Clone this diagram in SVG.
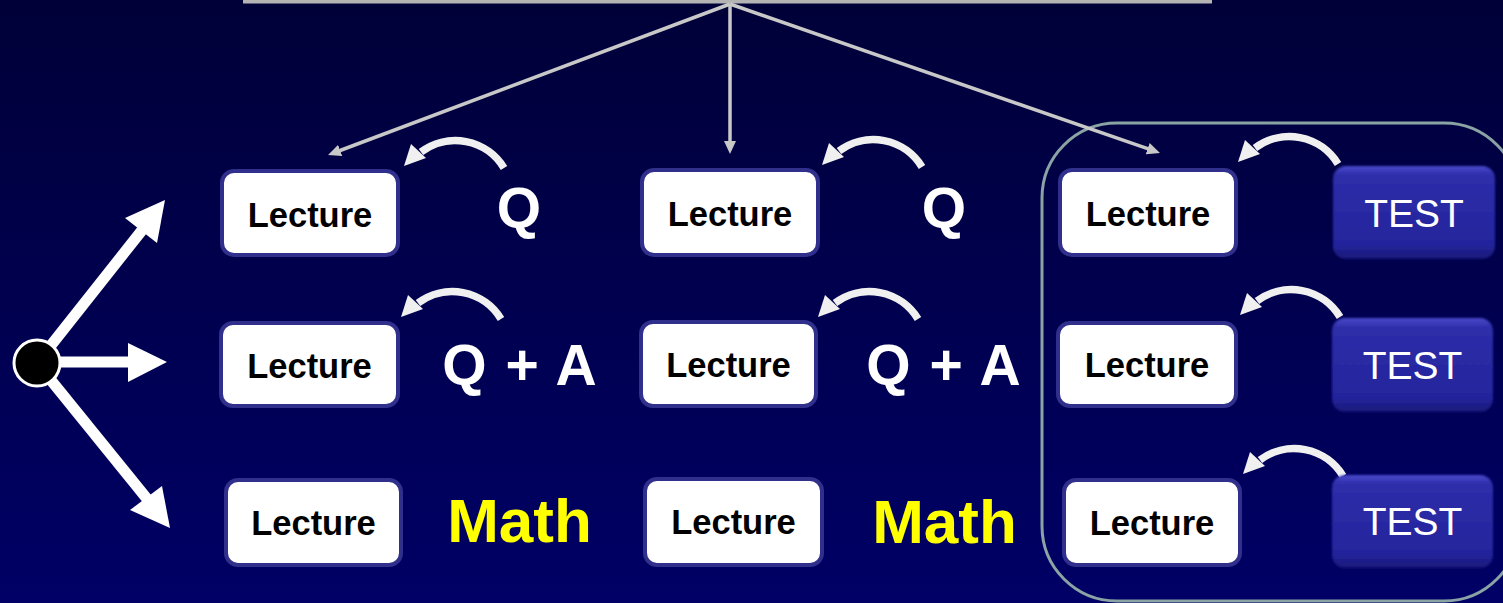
<svg xmlns="http://www.w3.org/2000/svg" width="1503" height="603" viewBox="0 0 1503 603">
  <defs>
    <linearGradient id="bg" x1="0" y1="0" x2="0" y2="1">
      <stop offset="0" stop-color="#000038"/>
      <stop offset="1" stop-color="#000066"/>
    </linearGradient>
    <linearGradient id="testFill" x1="0" y1="0" x2="0" y2="1">
      <stop offset="0" stop-color="#4a4acc"/>
      <stop offset="0.1" stop-color="#2e2eaa"/>
      <stop offset="0.85" stop-color="#24249c"/>
      <stop offset="1" stop-color="#181878"/>
    </linearGradient>
    <filter id="soft" x="-5%" y="-5%" width="110%" height="110%">
      <feGaussianBlur stdDeviation="0.9"/>
    </filter>
    <marker id="grayHead" markerUnits="userSpaceOnUse" markerWidth="14" markerHeight="12" refX="3" refY="6" orient="auto">
      <path d="M0,0 L13,6 L0,12 Z" fill="#c8c8c8"/>
    </marker>
    <g id="curl">
      <path d="M100,2 A57,57 0 0 0 17,-14" fill="none" stroke="#f0f0f0" stroke-width="7.5"/>
      <polygon points="0,0 7,-22 22,-8" fill="#f0f0f0"/>
    </g>
    <style>
      .lecBox { fill: #ffffff; stroke: #30308c; stroke-width: 4; }
      .lecText { font-family: "Liberation Sans", Arial, sans-serif; font-weight: bold; font-size: 34.5px; fill: #000000; text-anchor: middle; }
      .testBox { fill: url(#testFill); filter: url(#soft); }
      .testText { font-family: "Liberation Sans", Arial, sans-serif; font-size: 39px; fill: #ffffff; text-anchor: middle; }
      .qText { font-family: "Liberation Sans", Arial, sans-serif; font-weight: bold; font-size: 57px; fill: #ffffff; text-anchor: middle; }
      .qaText { word-spacing: 3px; }
      .mathText { font-family: "Liberation Sans", Arial, sans-serif; font-weight: bold; font-size: 62px; fill: #ffff00; text-anchor: middle; }
      .gray { stroke: #c8c8c8; stroke-width: 3.5; fill: none; marker-end: url(#grayHead); }
      .fat { stroke: #ffffff; stroke-width: 11; fill: none; }
    </style>
  </defs>

  <rect x="0" y="0" width="1503" height="603" fill="url(#bg)"/>

  <!-- top bar -->
  <rect id="topBar" x="243" y="0" width="969" height="3.5" fill="#b4b4b4"/>

  <!-- grouping frame -->
  <rect id="testGroup" x="1042" y="123" width="477" height="478" rx="75" ry="75" fill="none" stroke="#8aa4a4" stroke-width="3"/>

  <g id="connectors">
    <line class="gray" x1="730" y1="4" x2="337.4" y2="151.5"/>
    <line class="gray" x1="730" y1="4" x2="730" y2="144"/>
    <line class="gray" x1="730" y1="4" x2="1150.5" y2="149.7"/>

    <line class="fat" x1="37" y1="363" x2="143" y2="229"/>
    <polygon points="125,218 165,200 157,243" fill="#ffffff"/>
    <line class="fat" x1="37" y1="362" x2="130" y2="362"/>
    <polygon points="128,343 167,362 128,382" fill="#ffffff"/>
    <line class="fat" x1="37" y1="363" x2="148" y2="500"/>
    <polygon points="130,510 170,528 162,486" fill="#ffffff"/>

    <use href="#curl" transform="translate(404,166)"/>
    <use href="#curl" transform="translate(822,165)"/>
    <use href="#curl" transform="translate(1238,162)"/>
    <use href="#curl" transform="translate(401,317)"/>
    <use href="#curl" transform="translate(818,317)"/>
    <use href="#curl" transform="translate(1240,315)"/>
    <use href="#curl" transform="translate(1243,474)"/>
  </g>

  <g id="startNode">
    <circle cx="37" cy="363" r="23" fill="#000000" stroke="#ffffff" stroke-width="3"/>
  </g>

  <g id="lecture11"><rect class="lecBox" x="222" y="171" width="176" height="84" rx="12"/><text class="lecText" x="310" y="227">Lecture</text></g>
  <g id="lecture12"><rect class="lecBox" x="642" y="170" width="176" height="85" rx="12"/><text class="lecText" x="730" y="226">Lecture</text></g>
  <g id="lecture13"><rect class="lecBox" x="1060" y="170" width="176" height="85" rx="12"/><text class="lecText" x="1148" y="226">Lecture</text></g>
  <g id="lecture21"><rect class="lecBox" x="221" y="323" width="177" height="83" rx="12"/><text class="lecText" x="309.5" y="378">Lecture</text></g>
  <g id="lecture22"><rect class="lecBox" x="641" y="322" width="175" height="84" rx="12"/><text class="lecText" x="728.5" y="377">Lecture</text></g>
  <g id="lecture23"><rect class="lecBox" x="1058" y="323" width="178" height="83" rx="12"/><text class="lecText" x="1147" y="377">Lecture</text></g>
  <g id="lecture31"><rect class="lecBox" x="226" y="480" width="175" height="85" rx="12"/><text class="lecText" x="313.5" y="535">Lecture</text></g>
  <g id="lecture32"><rect class="lecBox" x="645" y="479" width="177" height="86" rx="12"/><text class="lecText" x="733.5" y="534">Lecture</text></g>
  <g id="lecture33"><rect class="lecBox" x="1064" y="480" width="176" height="85" rx="12"/><text class="lecText" x="1152" y="535">Lecture</text></g>

  <g id="test1"><rect class="testBox" x="1333" y="166" width="162" height="93" rx="13"/><text class="testText" x="1414" y="227">TEST</text></g>
  <g id="test2"><rect class="testBox" x="1332" y="318" width="161" height="94" rx="13"/><text class="testText" x="1412.5" y="379">TEST</text></g>
  <g id="test3"><rect class="testBox" x="1332" y="475" width="161" height="93" rx="13"/><text class="testText" x="1412.5" y="535">TEST</text></g>

  <g id="q1"><text class="qText" x="519" y="228">Q</text></g>
  <g id="q2"><text class="qText" x="944" y="228">Q</text></g>
  <g id="qa1"><text class="qText qaText" x="519.5" y="385">Q + A</text></g>
  <g id="qa2"><text class="qText qaText" x="943.5" y="385">Q + A</text></g>
  <g id="math1"><text class="mathText" x="519.5" y="542">Math</text></g>
  <g id="math2"><text class="mathText" x="944.5" y="543">Math</text></g>
</svg>
